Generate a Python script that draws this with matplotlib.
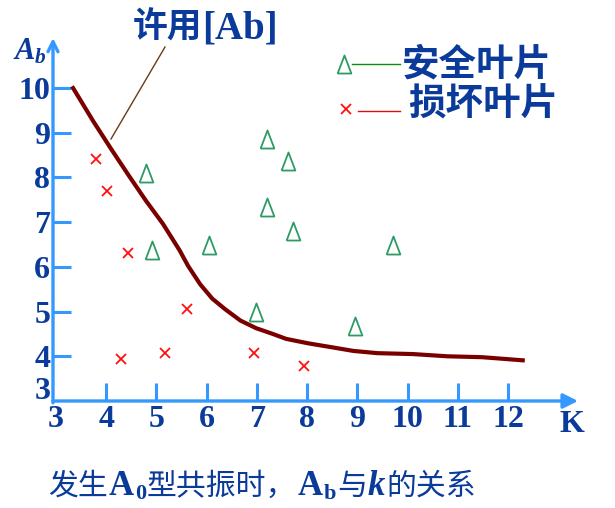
import matplotlib
matplotlib.use('Agg')
import matplotlib.pyplot as plt
from matplotlib.lines import Line2D
from matplotlib.transforms import ScaledTranslation

# 许用[Ab] 曲线
curve_k = [3.34, 3.74, 4.09, 4.45, 4.79, 5.13, 5.46, 5.63, 5.87, 6.11, 6.37, 6.67,
           6.98, 7.29, 7.58, 8.02, 8.50, 8.92, 9.40, 10.10, 10.79, 11.48, 12.29]
curve_a = [10.0, 9.26, 8.65, 8.04, 7.48, 6.96, 6.37, 6.02, 5.61, 5.29, 5.05, 4.80,
           4.63, 4.51, 4.39, 4.29, 4.20, 4.12, 4.07, 4.05, 4.00, 3.98, 3.91]

# 安全叶片
safe_k = [4.79, 7.20, 7.62, 4.91, 6.04, 7.20, 7.71, 6.98, 9.70, 8.96]
safe_a = [8.10, 8.86, 8.37, 6.37, 6.48, 7.33, 6.80, 4.98, 6.48, 4.68]

# 损坏叶片
bad_k = [3.80, 4.02, 4.43, 5.61, 4.30, 5.17, 6.94, 7.93]
bad_a = [8.41, 7.69, 6.30, 5.05, 3.93, 4.07, 4.07, 3.79]

x_ticks = [3, 4, 5, 6, 7, 8, 9, 10, 11, 12]
y_ticks = [3, 4, 5, 6, 7, 8, 9, 10]

BLUE_TXT = '#0a3a9a'
AXIS_C = '#3399ff'
W, H = 615, 508

plt.rcParams['font.family'] = ['Liberation Serif', 'Noto Sans CJK SC']
plt.rcParams['mathtext.fontset'] = 'custom'
plt.rcParams['mathtext.rm'] = 'Liberation Serif:bold'
plt.rcParams['mathtext.it'] = 'Liberation Serif:bold:italic'
plt.rcParams['mathtext.bf'] = 'Liberation Serif:bold'

fig = plt.figure(figsize=(W / 100, H / 100), dpi=100)
ax = fig.add_axes([53 / W, 107 / H, 525 / W, 363 / H])
ax.set_xlim(2.94, 13.39)
ax.set_ylim(3.0, 11.12)
for s in ax.spines.values():
    s.set_visible(False)

# 坐标轴箭头
ax.annotate('', xy=(1, 0), xytext=(0, 0), xycoords='axes fraction',
            arrowprops=dict(arrowstyle='-|>', color=AXIS_C, lw=2.4, mutation_scale=22,
                            shrinkA=0, shrinkB=0))
ax.annotate('', xy=(0, 1), xytext=(0, -0.005), xycoords='axes fraction',
            arrowprops=dict(arrowstyle='->', color=AXIS_C, lw=2.4, mutation_scale=18,
                            shrinkA=0, shrinkB=0))

ax.set_xticks(x_ticks)
ax.set_yticks(y_ticks)
ax.set_xticklabels([str(v) for v in x_ticks])
ax.set_yticklabels([str(v) for v in y_ticks])
ax.tick_params(axis='both', direction='in', length=13, width=2.2, color=AXIS_C,
               labelcolor=BLUE_TXT, labelsize=23)
ax.tick_params(axis='x', pad=3)
ax.tick_params(axis='y', pad=2)
for lab in ax.get_xticklabels() + ax.get_yticklabels():
    lab.set_fontweight('bold')

xt = ax.xaxis.get_major_ticks()
xt[0].tick1line.set_visible(False)
yt = ax.yaxis.get_major_ticks()
yt[0].tick1line.set_visible(False)
yt[0].label1.set_transform(yt[0].label1.get_transform()
                           + ScaledTranslation(0, 0.13, fig.dpi_scale_trans))

# 数据
ax.plot(curve_k, curve_a, color='#7a0000', lw=3.0, solid_joinstyle='round', zorder=3)
tri = [(-0.38, -0.5), (0.38, -0.5), (0, 0.5), (-0.38, -0.5)]
ax.plot(safe_k, safe_a, ls='none', marker=tri, ms=13, mfc='none', mec='#2e9a64',
        mew=1.3, zorder=4)
ax.plot(bad_k, bad_a, ls='none', marker='x', ms=7, mec='#ff1010', mew=1.3, zorder=4)

# 轴标题
fig.text(13 / W, 1 - 52 / H, r'$A_b$', fontsize=22, color=BLUE_TXT,
         ha='left', va='center')
fig.text(572 / W, 1 - 425 / H, 'K', fontsize=23, fontweight='bold', color=BLUE_TXT,
         ha='center', va='center')

renderer = fig.canvas.get_renderer()


def put_row(segs, x, base, gap):
    # 逐段排文字，base 为基线（像素，自上而下）
    for txt, props, dy in segs:
        t = fig.text(x / W, 1 - (base - dy) / H, txt, color=BLUE_TXT, ha='left',
                     va='baseline', **props)
        x += t.get_window_extent(renderer).width + gap


# 许用[Ab] 标注
put_row([('许用', dict(family=['Noto Sans CJK SC'], fontsize=25, fontweight='bold'), 0),
         ('[Ab]', dict(family=['Liberation Serif'], fontsize=28, fontweight='bold'), 0)],
        133, 38, 0)
fig.add_artist(Line2D([165 / W, 111 / W], [1 - 47 / H, 1 - 139 / H],
                      color='#6b3a12', lw=1.0))

# 图例
fig.add_artist(Line2D([344 / W], [1 - 64 / H], ls='none', marker=tri, ms=13,
                      mfc='none', mec='#2e9a64', mew=1.3))
fig.add_artist(Line2D([352 / W, 400 / W], [1 - 64 / H, 1 - 64 / H],
                      color='#138a13', lw=1.0))
fig.text(402 / W, 1 - 64 / H, '安全叶片', fontsize=27, fontweight='bold',
         color=BLUE_TXT, ha='left', va='center', family=['Noto Sans CJK SC'])
fig.add_artist(Line2D([346 / W], [1 - 109 / H], ls='none', marker='x', ms=7,
                      mec='#ff1010', mew=1.3))
fig.add_artist(Line2D([358 / W, 400 / W], [1 - 111 / H, 1 - 111 / H],
                      color='#dd1010', lw=1.0))
fig.text(408 / W, 1 - 104 / H, '损坏叶片', fontsize=27, fontweight='bold',
         color=BLUE_TXT, ha='left', va='center', family=['Noto Sans CJK SC'])

# 说明（分段排版）
cjk = dict(family=['Noto Sans CJK SC'], fontsize=21.5)
lat = dict(family=['Liberation Serif'], fontsize=25, fontweight='bold')
sub = dict(family=['Liberation Serif'], fontsize=16, fontweight='bold')
ita = dict(family=['Liberation Serif'], fontsize=25, fontweight='bold', style='italic')
segments = [('发生', cjk, 0), ('A', lat, 0), ('0', sub, -4), ('型共振时，', cjk, 0),
            ('A', lat, 0), ('b', sub, -4), ('与', cjk, 0), ('k', ita, 0), ('的关系', cjk, 0)]
put_row(segments, 48, 495, 1)

fig.savefig('out.png', dpi=100)
